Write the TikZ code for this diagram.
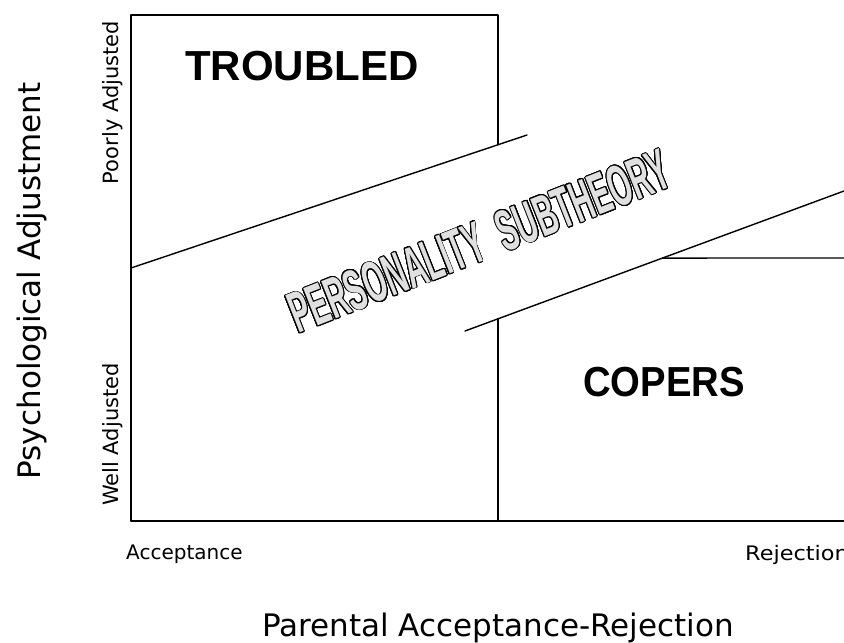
\documentclass[tikz,border=0pt]{standalone}
\usepackage{fontspec}
\setmainfont{DejaVu Sans}
\newfontfamily\heavyfont{Liberation Sans}
\usepackage{contour}
\contourlength{0.9pt}
\contournumber{24}
\usetikzlibrary{calc}

\tikzset{
  frame/.style={line width=1.4pt, line cap=round, line join=round},
  label/.style={inner sep=0pt, text=black},
  axistitle/.style={label, font=\fontsize{31}{31}\selectfont},
  endlabel/.style={label, font=\fontsize{21}{21}\selectfont},
  ticklabel/.style={label, font=\fontsize{20}{20}\selectfont},
  groupname/.style={label, font=\heavyfont\bfseries\fontsize{42}{42}\selectfont},
}

\begin{document}
\begin{tikzpicture}[x=1pt, y=-1pt]
  \useasboundingbox (0,0) rectangle (844,643);
  \clip (0,0) rectangle (844,643);

  % corner points of the chart
  \coordinate (O)  at (131,521);
  \coordinate (TL) at (131,15);
  \coordinate (TR) at (498,15);
  \coordinate (BR) at (844,521);
  \coordinate (MB) at (498,521);
  % upper edge of the band
  \coordinate (U1) at (131,268);
  \coordinate (U2) at (527,135);
  \coordinate (D1) at (498,144.7);
  % lower edge of the band
  \coordinate (L1) at (465,331);
  \coordinate (L2) at (844,191);
  \coordinate (D2) at (498,318.7);
  \coordinate (K)  at ($(L1)!0.521!(L2)$);
  \coordinate (KR) at (844,258);

  % frame and dividers
  \draw[frame] (O) -- (TL) -- (TR) -- (D1);
  \draw[frame] (O) -- (BR);
  \draw[frame] (U1) -- (U2);
  \draw[frame] (L1) -- (L2);
  \draw[frame] (D2) -- (MB);
  \draw[frame] (K) -- (KR);

  % region names
  \node[groupname, anchor=base west] (troubled) at (185,80) {TROUBLED};
  \node[groupname, anchor=base west] (copers) at (583,396) {\scalebox{0.91}[1]{COPERS}};

  % slanted band title, hollow letters
  \node[label, anchor=base west, rotate=21.5] (band) at (298,334)
    {\heavyfont\bfseries\fontsize{58}{58}\selectfont
     \contour{black}{\color{black!12}\scalebox{0.5}[1]{PERSONALITY\hspace{34pt}SUBTHEORY}}};

  % vertical axis
  \node[axistitle, anchor=base, rotate=90] (ytitle) at (40,281) {Psychological Adjustment};
  \node[endlabel, anchor=base, rotate=90] (ypoor) at (118,102.5) {Poorly Adjusted};
  \node[endlabel, anchor=base, rotate=90] (ywell) at (118,434.5) {Well Adjusted};

  % horizontal axis
  \node[ticklabel, anchor=base west] (xacc) at (126,559) {Acceptance};
  \node[ticklabel, anchor=base west] (xrej) at (745,560) {\scalebox{1.12}[1]{Rejection}};
  \node[axistitle, anchor=base west] (xtitle) at (262,636) {Parental Acceptance-Rejection};
\end{tikzpicture}
\end{document}
